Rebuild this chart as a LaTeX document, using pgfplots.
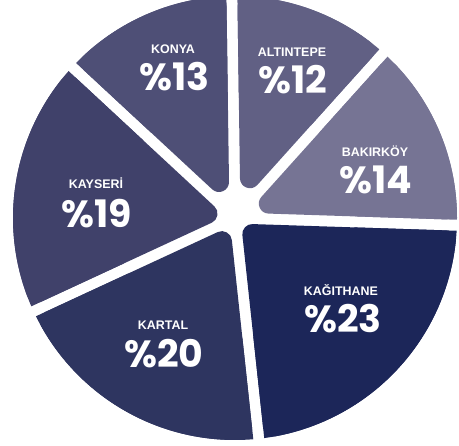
\documentclass[border=0pt]{standalone}
\usepackage{pgfplots}
\pgfplotsset{compat=1.18}
\usepackage{pgfplotstable}
\usepackage{fontspec}
\setmainfont{Liberation Sans}
\newfontfamily\numfont{Poppins}

\definecolor{c0}{HTML}{616084}% ALTINTEPE
\definecolor{c1}{HTML}{767494}% BAKIRKOY
\definecolor{c2}{HTML}{1C2659}% KAGITHANE
\definecolor{c3}{HTML}{2E3560}% KARTAL
\definecolor{c4}{HTML}{40416A}% KAYSERI
\definecolor{c5}{HTML}{4E4F76}% KONYA

% slice shares, clockwise from 12 o'clock
\pgfplotstableread{
idx pct
0 12
1 14
2 23
3 20
4 19
5 13
}\piedata

\def\cx{235}\def\cy{228}\def\R{222}\def\h{5.5}\def\rr{10}\def\startang{90.8}
\pgfmathsetmacro\Rc{\R-\rr}

\newcommand\computeslices{%
  \pgfmathsetmacro\tot{0}%
  \pgfplotsforeachungrouped \i in {0,...,5}{%
    \pgfplotstablegetelem{\i}{pct}\of\piedata
    \pgfmathsetmacro\tot{\tot+\pgfplotsretval}%
  }%
  \pgfmathsetmacro\unit{360/\tot}%
  \pgfmathsetmacro\cum{0}%
  \pgfplotsforeachungrouped \i in {0,...,5}{%
    \pgfplotstablegetelem{\i}{pct}\of\piedata
    \pgfmathsetmacro\ts{\startang-\unit*\cum}%
    \pgfmathsetmacro\cum{\cum+\pgfplotsretval}%
    \pgfmathsetmacro\te{\startang-\unit*\cum}%
    \pgfmathsetmacro\bis{(\ts+\te)/2}%
    \pgfmathsetmacro\al{(\ts-\te)/2}%
    \pgfmathsetmacro\oc{\h+\rr}%
    \pgfmathsetmacro\dc{asin(\oc/\Rc)}%
    \pgfmathsetmacro\aS{\te+\dc}%
    \pgfmathsetmacro\aE{\ts-\dc}%
    \pgfmathsetmacro\tipd{\oc/sin(\al)}%
    \pgfmathsetmacro\tx{\cx+\tipd*cos(\bis)}%
    \pgfmathsetmacro\ty{\cy+\tipd*sin(\bis)}%
    \pgfmathsetmacro\ds{asin(\h/\R)}%
    \pgfmathsetmacro\bS{\te+\ds}%
    \pgfmathsetmacro\bE{\ts-\ds}%
    \pgfmathsetmacro\px{\cx+120*cos(\ts)+\h*sin(\ts)}%
    \pgfmathsetmacro\py{\cy+120*sin(\ts)-\h*cos(\ts)}%
    \pgfmathsetmacro\qx{\cx+120*cos(\te)-\h*sin(\te)}%
    \pgfmathsetmacro\qy{\cy+120*sin(\te)+\h*cos(\te)}%
    \expandafter\xdef\csname sl\i aS\endcsname{\aS}%
    \expandafter\xdef\csname sl\i aE\endcsname{\aE}%
    \expandafter\xdef\csname sl\i tx\endcsname{\tx}%
    \expandafter\xdef\csname sl\i ty\endcsname{\ty}%
    \expandafter\xdef\csname sl\i bS\endcsname{\bS}%
    \expandafter\xdef\csname sl\i bE\endcsname{\bE}%
    \expandafter\xdef\csname sl\i px\endcsname{\px}%
    \expandafter\xdef\csname sl\i py\endcsname{\py}%
    \expandafter\xdef\csname sl\i qx\endcsname{\qx}%
    \expandafter\xdef\csname sl\i qy\endcsname{\qy}%
  }%
}
\newcommand\V[2]{\csname sl#1#2\endcsname}

\newcommand\nm[1]{{\fontsize{12.5}{14}\selectfont\bfseries #1}}
\newcommand\pc[1]{{\numfont\fontsize{38}{40}\selectfont\bfseries \%#1}}

\begin{document}
\begin{tikzpicture}
\computeslices
\begin{axis}[scale only axis, width=459bp, height=446bp,
  xmin=0, xmax=459, ymin=0, ymax=446, hide axis, clip=true]
\pgfplotsinvokeforeach{0,...,5}{
  \addplot[draw=c#1, fill=c#1, line width=20bp, line join=round,
    domain=\V{#1}{aS}:\V{#1}{aE}, samples=90, variable=\t]
    ({\cx+\Rc*cos(\t)},{\cy+\Rc*sin(\t)}) -- (axis cs:\V{#1}{tx},\V{#1}{ty}) -- cycle;
  \addplot[draw=none, fill=c#1,
    domain=\V{#1}{bS}:\V{#1}{bE}, samples=90, variable=\t]
    ({\cx+\R*cos(\t)},{\cy+\R*sin(\t)}) -- (axis cs:\V{#1}{px},\V{#1}{py}) -- (axis cs:\V{#1}{qx},\V{#1}{qy}) -- cycle;
}
\begin{scope}[every node/.style={text=white, inner sep=0pt, anchor=base}]
\node at (axis cs:292,389.3) {\nm{ALTINTEPE}};
\node at (axis cs:293,352) {\pc{12}};
\node at (axis cs:375,289.3) {\nm{BAKIRKÖY}};
\node at (axis cs:376,252) {\pc{14}};
\node at (axis cs:341,150) {\nm{KAĞITHANE}};
\node at (axis cs:343,113) {\pc{23}};
\node at (axis cs:163,116) {\nm{KARTAL}};
\node at (axis cs:164,78) {\pc{20}};
\node at (axis cs:96,257) {\nm{KAYSERİ}};
\node at (axis cs:97,218) {\pc{19}};
\node at (axis cs:173,392.7) {\nm{KONYA}};
\node at (axis cs:174.5,355.3) {\pc{13}};
\end{scope}
\end{axis}
\pgfresetboundingbox
\path (current axis.south west) rectangle (current axis.north east);
\end{tikzpicture}
\end{document}
